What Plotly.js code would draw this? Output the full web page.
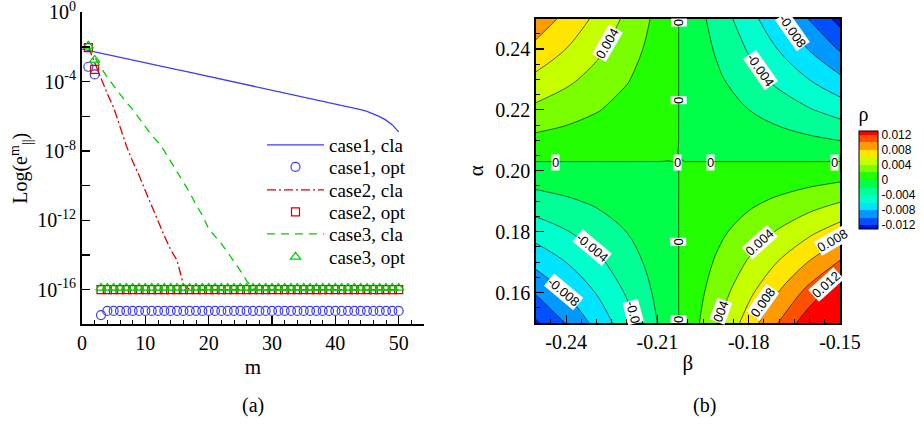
<!DOCTYPE html>
<html>
<head>
<meta charset="utf-8">
<script src="https://cdn.plot.ly/plotly-3.0.1.min.js"></script>
<style>html,body{margin:0;padding:0;background:#fff;}#chart{width:924px;height:425px;}</style>
</head>
<body>
<div id="chart"></div>
<script>
// ---------- panel (a) data ----------
var mCla1 = [0,1,2,3,4,5,6,7,8,9,10,11,12,13,14,15,16,17,18,19,20,21,22,23,24,25,26,27,28,29,30,31,32,33,34,35,36,37,38,39,40,41,42,43,44,45,46,47,48,49,50];
var case1Cla = [7.6e-3,6.3e-3,5.2e-3,4.4e-3,3.6e-3,3.0e-3,2.6e-3,2.1e-3,1.8e-3,1.48e-3,1.23e-3,1.02e-3,8.5e-4,7.1e-4,5.9e-4,4.9e-4,4.2e-4,3.5e-4,2.9e-4,2.4e-4,2.0e-4,1.66e-4,1.38e-4,1.15e-4,9.5e-5,7.9e-5,6.8e-5,5.6e-5,4.7e-5,3.9e-5,3.2e-5,2.7e-5,2.2e-5,1.86e-5,1.55e-5,1.29e-5,1.10e-5,9.1e-6,7.6e-6,6.3e-6,5.2e-6,4.4e-6,3.6e-6,3.0e-6,2.4e-6,1.9e-6,1.41e-6,9.5e-7,6.0e-7,3.2e-7,1.26e-7];
var mOpt = [1,2,3,4,5,6,7,8,9,10,11,12,13,14,15,16,17,18,19,20,21,22,23,24,25,26,27,28,29,30,31,32,33,34,35,36,37,38,39,40,41,42,43,44,45,46,47,48,49,50];
var case1Opt = [7.2e-4,2.6e-4,3.4e-18,5.9e-18,5.9e-18,5.9e-18,5.9e-18,5.9e-18,5.9e-18,5.9e-18,5.9e-18,5.9e-18,5.9e-18,5.9e-18,5.9e-18,5.9e-18,5.9e-18,5.9e-18,5.9e-18,5.9e-18,5.9e-18,5.9e-18,5.9e-18,5.9e-18,5.9e-18,5.9e-18,5.9e-18,5.9e-18,5.9e-18,5.9e-18,5.9e-18,5.9e-18,5.9e-18,5.9e-18,5.9e-18,5.9e-18,5.9e-18,5.9e-18,5.9e-18,5.9e-18,5.9e-18,5.9e-18,5.9e-18,5.9e-18,5.9e-18,5.9e-18,5.9e-18,5.9e-18,5.9e-18,5.9e-18];
var case2Cla = [1.0e-2,1.26e-3,1.26e-4,2.0e-5,3.2e-6,2.5e-7,2.0e-8,2.5e-9,4.0e-10,5.0e-11,6.3e-12,7.9e-13,1.26e-13,2.0e-14,5.0e-15,2.0e-16,1.0e-16,1.0e-16,1.0e-16,1.0e-16,1.0e-16,1.0e-16,1.0e-16,1.0e-16,1.0e-16,1.0e-16,1.0e-16,1.0e-16,1.0e-16,1.0e-16,1.0e-16,1.0e-16,1.0e-16,1.0e-16,1.0e-16,1.0e-16,1.0e-16,1.0e-16,1.0e-16,1.0e-16,1.0e-16,1.0e-16,1.0e-16,1.0e-16,1.0e-16,1.0e-16,1.0e-16,1.0e-16,1.0e-16,1.0e-16];
var case2Opt = [9.1e-3,5.1e-4,1.0e-16,1.0e-16,1.0e-16,1.0e-16,1.0e-16,1.0e-16,1.0e-16,1.0e-16,1.0e-16,1.0e-16,1.0e-16,1.0e-16,1.0e-16,1.0e-16,1.0e-16,1.0e-16,1.0e-16,1.0e-16,1.0e-16,1.0e-16,1.0e-16,1.0e-16,1.0e-16,1.0e-16,1.0e-16,1.0e-16,1.0e-16,1.0e-16,1.0e-16,1.0e-16,1.0e-16,1.0e-16,1.0e-16,1.0e-16,1.0e-16,1.0e-16,1.0e-16,1.0e-16,1.0e-16,1.0e-16,1.0e-16,1.0e-16,1.0e-16,1.0e-16,1.0e-16,1.0e-16,1.0e-16,1.0e-16];
var case3Cla = [1.12e-2,2.5e-3,6.3e-4,1.78e-4,5.6e-5,1.78e-5,6.3e-6,2.5e-6,7.9e-7,2.5e-7,7.9e-8,3.2e-8,1.0e-8,2.5e-9,6.3e-10,1.58e-10,4.0e-11,8.0e-12,2.0e-12,3.2e-13,1.26e-13,4.5e-14,1.41e-14,4.5e-15,1.26e-15,3.2e-16,1.1e-16,1.0e-16,1.0e-16,1.0e-16,1.0e-16,1.0e-16,1.0e-16,1.0e-16,1.0e-16,1.0e-16,1.0e-16,1.0e-16,1.0e-16,1.0e-16,1.0e-16,1.0e-16,1.0e-16,1.0e-16,1.0e-16,1.0e-16,1.0e-16,1.0e-16,1.0e-16,1.0e-16];
var case3Opt = [1.17e-2,1.8e-3,1.25e-16,1.25e-16,1.25e-16,1.25e-16,1.25e-16,1.25e-16,1.25e-16,1.25e-16,1.25e-16,1.25e-16,1.25e-16,1.25e-16,1.25e-16,1.25e-16,1.25e-16,1.25e-16,1.25e-16,1.25e-16,1.25e-16,1.25e-16,1.25e-16,1.25e-16,1.25e-16,1.25e-16,1.25e-16,1.25e-16,1.25e-16,1.25e-16,1.25e-16,1.25e-16,1.25e-16,1.25e-16,1.25e-16,1.25e-16,1.25e-16,1.25e-16,1.25e-16,1.25e-16,1.25e-16,1.25e-16,1.25e-16,1.25e-16,1.25e-16,1.25e-16,1.25e-16,1.25e-16,1.25e-16,1.25e-16];
var seriesNames = ['case1, cla','case1, opt','case2, cla','case2, opt','case3, cla','case3, opt'];
var yTickVals = [1,1e-2,1e-4,1e-6,1e-8,1e-10,1e-12,1e-14,1e-16,1e-18];
var yTickText = ['10<sup>0</sup>','','10<sup>-4</sup>','','10<sup>-8</sup>','','10<sup>-12</sup>','','10<sup>-16</sup>',''];
var xTickVals = [0,10,20,30,40,50];

// ---------- panel (b) data ----------
var beta = [-0.25,-0.24,-0.23,-0.22,-0.21,-0.205,-0.201,-0.20,-0.19,-0.18,-0.17,-0.16,-0.15];
var alpha = [0.15,0.16,0.17,0.18,0.19,0.20,0.201,0.205,0.21,0.22,0.23,0.24,0.25];
var rho = [
 [-0.01231,-0.00990,-0.00738,-0.00474,-0.00199,-0.000575,0.000579,0.00087,0.00384,0.00693,0.01013,0.01344,0.01686],
 [-0.00984,-0.00791,-0.00590,-0.00379,-0.00159,-0.000459,0.000463,0.00070,0.00307,0.00554,0.00810,0.01074,0.01348],
 [-0.00744,-0.00598,-0.00446,-0.00286,-0.00120,-0.000347,0.000350,0.00053,0.00232,0.00419,0.00612,0.00812,0.01019],
 [-0.00511,-0.00411,-0.00306,-0.00197,-0.00083,-0.000238,0.000240,0.00036,0.00159,0.00287,0.00420,0.00557,0.00699],
 [-0.00284,-0.00228,-0.00170,-0.00109,-0.00046,-0.000133,0.000134,0.00020,0.00089,0.00160,0.00234,0.00310,0.00389],
 [-0.00065,-0.00052,-0.00039,-0.00025,-0.00010,-0.000030,0.000030,0.00005,0.00020,0.00036,0.00053,0.00070,0.00088],
 [-0.000429,-0.000345,-0.000257,-0.000165,-0.000069,-0.000020,0.000020,0.000030,0.000134,0.000242,0.000353,0.000469,0.000588],
 [0.000427,0.000343,0.000256,0.000164,0.000069,0.000020,-0.000020,-0.000030,-0.000133,-0.000240,-0.000351,-0.000466,-0.000584],
 [0.00148,0.00119,0.00089,0.00057,0.00024,0.000069,-0.000070,-0.00010,-0.00046,-0.00083,-0.00122,-0.00162,-0.00203],
 [0.00354,0.00285,0.00212,0.00136,0.00057,0.000165,-0.000166,-0.00025,-0.00110,-0.00199,-0.00291,-0.00386,-0.00485],
 [0.00553,0.00444,0.00331,0.00213,0.00089,0.000258,-0.000260,-0.00039,-0.00173,-0.00311,-0.00455,-0.00603,-0.00757],
 [0.00745,0.00599,0.00446,0.00287,0.00120,0.000347,-0.000350,-0.00053,-0.00232,-0.00419,-0.00612,-0.00813,-0.01020],
 [0.00930,0.00748,0.00557,0.00358,0.00150,0.000434,-0.000437,-0.00066,-0.00290,-0.00523,-0.00765,-0.01015,-0.01273]
];
var betaTickVals = [-0.24,-0.21,-0.18,-0.15];
var betaTickText = ['-0.24','-0.21','-0.18','-0.15'];
var alphaTickVals = [0.16,0.18,0.20,0.22,0.24];
var alphaTickText = ['0.16','0.18','0.20','0.22','0.24'];
var cbTickVals = [-0.012,-0.008,-0.004,0,0.004,0.008,0.012];
var cbTickText = ['-0.012','-0.008','-0.004','0','0.004','0.008','0.012'];
var bandColors = ['#0a10d8','#0050ff','#0099ff','#00e4ff','#00ffcc','#00ff96','#00ff48','#22ff00','#7aff00','#c6ff00','#ffe600','#ff9a00','#ff5000','#ff0000'];
var contourLabelText = ['0.004','0','0','0','0','0','0','0','0','-0.008','-0.004','-0.004','-0.008','-0.0','0.004','0.008','0.012','0.008','004'];

// ---------- presentation ----------
var serif = 'Liberation Serif';
var sans = 'Liberation Sans';
var colorscale = bandColors.map(function(c,i){ return [i/(bandColors.length-1), c]; });

// contour label placement (beta, alpha, angle) — layout only
var labelPlace = [
  [-0.2265,0.2418,-60],[-0.2030,0.2486,90],[-0.2030,0.2231,90],[-0.2436,0.2028,0],[-0.2034,0.2028,0],
  [-0.1925,0.2028,0],[-0.1519,0.2028,0],[-0.2030,0.1766,90],[-0.2030,0.1512,90],[-0.1655,0.2458,55],
  [-0.1760,0.2330,55],[-0.2314,0.1749,40],[-0.2410,0.1602,40],[-0.2179,0.1535,75],[-0.1766,0.1766,-42],
  [-0.1525,0.1772,-30],[-0.1545,0.1625,-42],[-0.1753,0.1566,-55],[-0.1892,0.1538,-70]
];
var labelAnnots = contourLabelText.map(function(t,i){
  return {text:t, xref:'x2', yref:'y2', x:labelPlace[i][0], y:labelPlace[i][1], textangle:labelPlace[i][2],
    showarrow:false, bgcolor:'#ffffff', borderpad:0, font:{family:sans, size:13, color:'#000'}};
});

// one legend box per row so the rows sit at the reference spacing
var legendRowsY = [145,167,190,212,234,257];
var legendIds = ['legend','legend2','legend3','legend4','legend5','legend6'];

var traces = [
  {type:'scatter', mode:'lines', x:mCla1, y:case1Cla, name:seriesNames[0], line:{color:'#3c3cff', width:1.3}},
  {type:'scatter', mode:'markers', x:mOpt, y:case1Opt, name:seriesNames[1], marker:{symbol:'circle-open', size:9, color:'#3c3cff', line:{width:1.2}}},
  {type:'scatter', mode:'lines', x:mOpt, y:case2Cla, name:seriesNames[2], line:{color:'#e00000', width:1.3, dash:'9px,3px,2px,3px'}},
  {type:'scatter', mode:'markers', x:mOpt, y:case2Opt, name:seriesNames[3], marker:{symbol:'square-open', size:8, color:'#d00000', line:{width:1.2}}},
  {type:'scatter', mode:'lines', x:mOpt, y:case3Cla, name:seriesNames[4], line:{color:'#00cc00', width:1.3, dash:'8px,6px'}},
  {type:'scatter', mode:'markers', x:mOpt, y:case3Opt, name:seriesNames[5], marker:{symbol:'triangle-up-open', size:9, color:'#00cc00', line:{width:1.2}}}
];
traces.forEach(function(t,i){ t.xaxis='x'; t.yaxis='y'; t.legend=legendIds[i]; t.showlegend=true; });

traces.push(
  {type:'contour', x:beta, y:alpha, z:rho, xaxis:'x2', yaxis:'y2', showlegend:false, hoverinfo:'skip',
   autocontour:false, contours:{start:-0.012, end:0.012, size:0.002, coloring:'fill', showlines:false},
   colorscale:colorscale, line:{width:0, smoothing:1},
   colorbar:{x:859/924, xanchor:'left', xpad:0, y:1-166/425, yanchor:'middle', ypad:0,
     len:126, lenmode:'pixels', thickness:19, thicknessmode:'pixels',
     outlinewidth:1, outlinecolor:'#000', tickmode:'array', tickvals:cbTickVals, ticktext:cbTickText,
     ticks:'', tickfont:{family:sans, size:12, color:'#000'},
     title:{text:'ρ', side:'top', font:{family:serif, size:20, color:'#000'}}}},
  {type:'contour', x:beta, y:alpha, z:rho, xaxis:'x2', yaxis:'y2', showlegend:false, showscale:false, hoverinfo:'skip',
   autocontour:false, contours:{start:-0.012, end:0.012, size:0.002, coloring:'none', showlabels:false},
   line:{color:'#000', width:0.6, smoothing:1}}
);

var layout = {
  width:924, height:425, margin:{l:0,r:0,t:0,b:0},
  paper_bgcolor:'#fff', plot_bgcolor:'#fff',
  font:{family:serif, size:20, color:'#000'},
  showlegend:true,
  xaxis:{domain:[82/924, 424/924], range:[0,54], anchor:'y', showline:true, linewidth:2, linecolor:'#000',
    ticks:'inside', ticklen:8, tickwidth:1.5, tickcolor:'#000', tickmode:'array', tickvals:xTickVals,
    minor:{tickmode:'linear', tick0:0, dtick:2, ticks:'inside', ticklen:4, tickwidth:1, tickcolor:'#000', showgrid:false},
    showgrid:false, zeroline:false, tickfont:{family:serif, size:20}, ticklabeloverflow:'allow',
    title:{text:'m', font:{family:serif, size:21}, standoff:6}},
  yaxis:{domain:[1-324.3/425, 1-12.3/425], type:'log', range:[-18,0], anchor:'x', showline:true, linewidth:2, linecolor:'#000',
    ticks:'inside', ticklen:8, tickwidth:1.5, tickcolor:'#000', tickmode:'array', tickvals:yTickVals, ticktext:yTickText,
    showgrid:false, zeroline:false, tickfont:{family:serif, size:20}, ticklabeloverflow:'allow',
    title:{text:'Log(e<sup>m</sup><sub>||</sub>)', font:{family:serif, size:20}, standoff:4}},
  xaxis2:{domain:[535.7/924, 840/924], range:[-0.25,-0.15], anchor:'y2', showline:true, mirror:true, linewidth:1.5, linecolor:'#000',
    ticks:'inside', ticklen:8, tickwidth:1.2, tickcolor:'#000', tickmode:'array', tickvals:betaTickVals, ticktext:betaTickText,
    minor:{tickmode:'linear', tick0:-0.25, dtick:0.005, ticks:'inside', ticklen:4, tickwidth:1, tickcolor:'#000', showgrid:false},
    showgrid:false, zeroline:false, tickfont:{family:serif, size:20}, ticklabeloverflow:'allow',
    title:{text:'β', font:{family:serif, size:21}, standoff:4}},
  yaxis2:{domain:[1-323/425, 1-18.5/425], range:[0.15,0.25], anchor:'x2', showline:true, mirror:true, linewidth:1.5, linecolor:'#000',
    ticks:'inside', ticklen:8, tickwidth:1.2, tickcolor:'#000', tickmode:'array', tickvals:alphaTickVals, ticktext:alphaTickText,
    minor:{tickmode:'linear', tick0:0.15, dtick:0.005, ticks:'inside', ticklen:4, tickwidth:1, tickcolor:'#000', showgrid:false},
    showgrid:false, zeroline:false, tickfont:{family:serif, size:20}, ticklabeloverflow:'allow',
    title:{text:'α', font:{family:serif, size:21}, standoff:6}},
  annotations:[
    {text:'(a)', xref:'paper', yref:'paper', x:240/924, y:1-405/425, yanchor:'middle', showarrow:false, font:{family:serif, size:20}},
    {text:'(b)', xref:'paper', yref:'paper', x:718/924, y:1-405/425, yanchor:'middle', showarrow:false, font:{family:serif, size:20}}
  ].concat(labelAnnots)
};
legendIds.forEach(function(id,i){
  layout[id] = {x:262/924, y:1-legendRowsY[i]/425, xanchor:'left', yanchor:'middle', bgcolor:'rgba(0,0,0,0)',
    font:{family:serif, size:19, color:'#000'}, borderwidth:0, itemwidth:57};
});

Plotly.newPlot('chart', traces, layout, {staticPlot:true, displayModeBar:false});
</script>
</body>
</html>
